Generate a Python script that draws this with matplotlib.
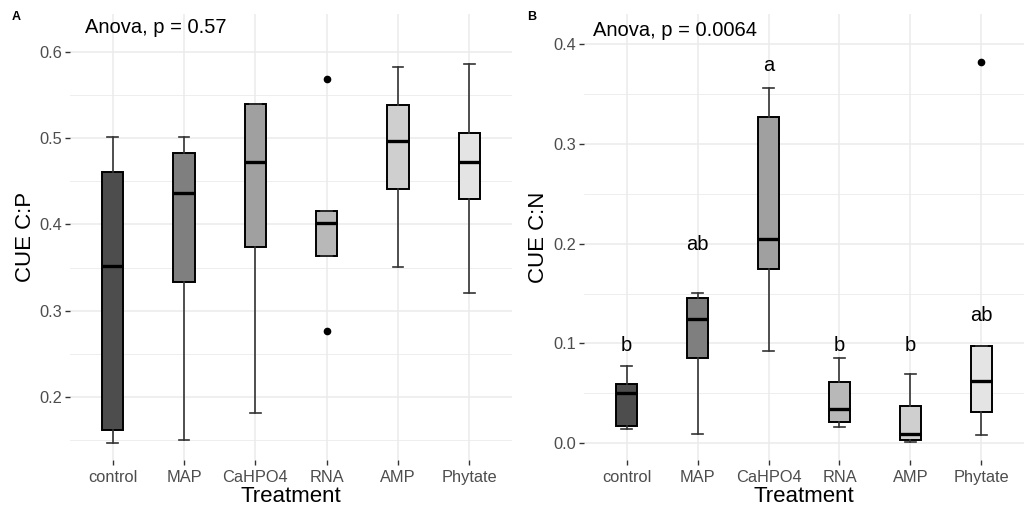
import matplotlib
matplotlib.use("Agg")
import matplotlib.pyplot as plt
from matplotlib.ticker import MultipleLocator, FormatStrFormatter

plt.rcParams['font.family'] = ['Liberation Sans', 'DejaVu Sans']

treatments = ["control", "MAP", "CaHPO4", "RNA", "AMP", "Phytate"]
fills = ["#4D4D4D", "#7F7F7F", "#A0A0A0", "#B8B8B8", "#CFCFCF", "#E4E4E4"]

# Panel A: CUE C:P
cp_whislo = [0.147, 0.150, 0.182, 0.363, 0.351, 0.320]
cp_q1     = [0.162, 0.333, 0.374, 0.363, 0.441, 0.429]
cp_med    = [0.352, 0.436, 0.472, 0.401, 0.497, 0.472]
cp_q3     = [0.461, 0.483, 0.540, 0.415, 0.538, 0.506]
cp_whishi = [0.501, 0.501, 0.540, 0.415, 0.582, 0.586]
cp_fliers = [[], [], [], [0.568, 0.277], [], []]
cp_anova = "Anova, p = 0.57"

# Panel B: CUE C:N
cn_whislo = [0.0144, 0.0093, 0.0925, 0.0167, 0.0010, 0.0083]
cn_q1     = [0.0177, 0.0858, 0.1750, 0.0214, 0.0033, 0.0310]
cn_med    = [0.0508, 0.1245, 0.2043, 0.0347, 0.0090, 0.0628]
cn_q3     = [0.0598, 0.1456, 0.3270, 0.0611, 0.0374, 0.0978]
cn_whishi = [0.0778, 0.1510, 0.3560, 0.0858, 0.0698, 0.0978]
cn_fliers = [[], [], [], [], [], [0.382]]
cn_letters = ["b", "ab", "a", "b", "b", "ab"]
cn_letter_y = [0.098, 0.199, 0.378, 0.098, 0.098, 0.128]
cn_anova = "Anova, p = 0.0064"

W, H = 1032, 512
fig = plt.figure(figsize=(W / 100, H / 100), dpi=100)

def make_stats(lo, q1, med, q3, hi, fl):
    return [dict(whislo=a, q1=b, med=c, q3=d, whishi=e, fliers=f, label=t)
            for a, b, c, d, e, f, t in zip(lo, q1, med, q3, hi, fl, treatments)]

def panel(left_px, right_px, ylabel_px, stats, ylim, yticks, ylabel,
          anova, anova_x, anova_y):
    top_px, bot_px = 14, 460
    wpx, hpx = right_px - left_px, bot_px - top_px
    ax = fig.add_axes([left_px / W, 1 - bot_px / H, wpx / W, hpx / H])
    pos = list(range(1, len(treatments) + 1))
    bp = ax.bxp(stats, positions=pos, widths=0.3, patch_artist=True,
                showfliers=True,
                boxprops=dict(edgecolor="black", linewidth=1.4),
                medianprops=dict(color="black", linewidth=2.4, solid_capstyle="butt"),
                whiskerprops=dict(color="#333333", linewidth=1.2),
                capprops=dict(color="#333333", linewidth=1.2),
                capwidths=0.15,
                flierprops=dict(marker="o", markerfacecolor="black",
                                markeredgecolor="black", markersize=4.5),
                zorder=3)
    for patch, c in zip(bp["boxes"], fills):
        patch.set_facecolor(c)
    ax.set_xlim(0.4, 6.6)
    ax.set_ylim(*ylim)
    ax.set_yticks(yticks)
    ax.yaxis.set_minor_locator(MultipleLocator(0.05))
    ax.set_xticks(pos)
    ax.set_xticklabels(treatments)
    ax.grid(True, which="major", color="#EBEBEB", linewidth=1.1, zorder=0)
    ax.grid(True, which="minor", axis="y", color="#EBEBEB", linewidth=0.6, zorder=0)
    ax.set_axisbelow(True)
    for s in ax.spines.values():
        s.set_visible(False)
    ax.tick_params(axis="both", which="major", length=3.3, width=1.0,
                   color="#333333", labelcolor="#4D4D4D", labelsize=11.8, pad=2.2)
    ax.tick_params(axis="x", which="major", pad=4.2)
    ax.tick_params(axis="both", which="minor", length=0)
    ax.yaxis.set_major_formatter(FormatStrFormatter("%.1f"))
    ax.set_xlabel("Treatment", fontsize=16, color="black", va="center")
    ax.xaxis.set_label_coords(0.5, -(496 - bot_px) / hpx)
    ax.set_ylabel(ylabel, fontsize=16, color="black", va="center")
    ax.yaxis.set_label_coords(-(left_px - ylabel_px) / wpx, 0.5)
    ax.text(anova_x, anova_y, anova, fontsize=14.5, ha="left", va="center", color="black")
    return ax

axA = panel(70, 512, 26,
            make_stats(cp_whislo, cp_q1, cp_med, cp_q3, cp_whishi, cp_fliers),
            (0.127, 0.6437), [0.2, 0.3, 0.4, 0.5, 0.6], "CUE C:P", cp_anova, 0.61, 0.6275)

axB = panel(584, 1024, 538,
            make_stats(cn_whislo, cn_q1, cn_med, cn_q3, cn_whishi, cn_fliers),
            (-0.0167, 0.430), [0.0, 0.1, 0.2, 0.3, 0.4], "CUE C:N", cn_anova, 0.527, 0.4138)
for i, (lab, yv) in enumerate(zip(cn_letters, cn_letter_y)):
    axB.text(i + 1, yv, lab, fontsize=14.5, ha="center", va="center", color="black")

fig.text(12 / W, 1 - 17 / H, "A", fontsize=9, fontweight="bold", ha="left", va="center")
fig.text(527 / W, 1 - 17 / H, "B", fontsize=9, fontweight="bold", ha="left", va="center")

fig.savefig("out.png", dpi=100, facecolor="white")
